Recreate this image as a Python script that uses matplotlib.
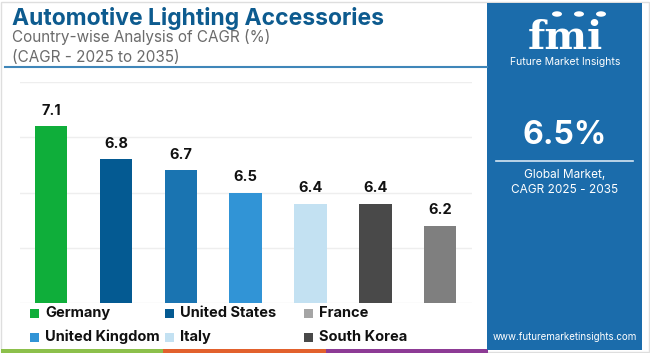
import matplotlib
matplotlib.use('Agg')
import matplotlib.pyplot as plt
from matplotlib.patches import Rectangle, Circle
from matplotlib.lines import Line2D

# Data
countries = ['Germany', 'United States', 'Japan', 'United Kingdom', 'Italy', 'South Korea', 'France']
cagr = [7.1, 6.8, 6.7, 6.5, 6.4, 6.4, 6.2]
bar_colors = ['#0fae3a', '#045a92', '#1a74b1', '#3194d6', '#c3e1f2', '#494949', '#7f7f7f']

legend_labels = ['Germany', 'United States', 'France', 'United Kingdom', 'Italy', 'South Korea']
legend_colors = ['#0fae3a', '#045a92', '#a5a5a5', '#3194d6', '#c3e1f2', '#494949']

W, H = 650, 353
FONT = 'Inter'
PANEL = '#1b6cab'


def fx(px):
    return px / W


def fy(py):
    return 1 - py / H


fig = plt.figure(figsize=(W / 100, H / 100), dpi=100)
fig.patch.set_facecolor('white')

# thin frame around the card
fig.patches.append(Rectangle((fx(1), fy(352)), fx(648), 350 / H, transform=fig.transFigure,
                             fill=False, edgecolor='#dedede', linewidth=1))

# title block
fig.text(fx(12), fy(18), 'Automotive Lighting Accessories', fontsize=16.5, fontweight='bold',
         color='#0d5b8f', family=FONT, va='center', ha='left')
fig.text(fx(12), fy(37), 'Country-wise Analysis of CAGR (%)', fontsize=11, color='#6b6b6b',
         family=FONT, va='center', ha='left')
fig.text(fx(12), fy(57), '(CAGR - 2025 to 2035)', fontsize=11, color='#6b6b6b',
         family=FONT, va='center', ha='left')
fig.add_artist(Line2D([fx(5), fx(487)], [fy(67), fy(67)], color='#3f86b9', linewidth=1.5,
                      transform=fig.transFigure))

# bar chart
ax = fig.add_axes([fx(20), fy(303), fx(452), 221 / H])
x = range(len(countries))
bars = ax.bar(x, cagr, width=0.5, color=bar_colors, zorder=3)
ax.set_ylim(5.5, 7.5)
ax.set_xlim(-0.48, len(countries) - 0.51)
ax.set_yticks([5.5, 6.0, 6.5, 7.0, 7.5])
ax.yaxis.grid(True, color='#eeeeee', linewidth=1, zorder=0)
ax.set_xticks([])
ax.tick_params(axis='y', length=0, labelleft=False)
for s in ax.spines.values():
    s.set_visible(False)
for b, v in zip(bars, cagr):
    ax.annotate(f'{v:.1f}', xy=(b.get_x() + b.get_width() / 2, v), xytext=(0, 6),
                textcoords='offset points', ha='center', va='bottom', fontsize=10.5,
                fontweight='bold', color='#111111', family=FONT)

# legend (manual, three columns)
col_x = [30, 165, 304]
row_y = [313, 337]
for i, (lab, col) in enumerate(zip(legend_labels, legend_colors)):
    cx = col_x[i % 3]
    cy = row_y[i // 3]
    fig.patches.append(Rectangle((fx(cx), fy(cy + 4.5)), fx(9), 9 / H, transform=fig.transFigure,
                                 facecolor=col, edgecolor='none'))
    fig.text(fx(cx + 15), fy(cy), lab, fontsize=10.5, fontweight='bold', color='#111111',
             family=FONT, va='center', ha='left')

# coloured strip at the bottom
for i, col in enumerate(['#8cc04b', '#e2612d', '#8d3b95']):
    fig.patches.append(Rectangle((fx(1 + i * 162.3), 0), fx(162.3), 4 / H, transform=fig.transFigure,
                                 facecolor=col, edgecolor='none'))

# right info panel
fig.patches.append(Rectangle((fx(487), fy(350)), fx(155), 347 / H, transform=fig.transFigure,
                             facecolor=PANEL, edgecolor='none'))
cxp = 565
fig.text(fx(cxp), fy(49), 'fmi', fontsize=29, fontweight='bold', color='white',
         family='DejaVu Serif', ha='center', va='baseline')
for yy in range(22, 50, 4):
    fig.add_artist(Line2D([fx(505), fx(625)], [fy(yy), fy(yy)], color=PANEL, linewidth=0.9,
                          transform=fig.transFigure))
for gx in [557, 579, 601]:
    fig.patches.append(Circle((fx(gx), fy(14)), 5 / W, transform=fig.transFigure,
                              facecolor='white', edgecolor='none'))
fig.text(fx(cxp), fy(62), 'Future Market Insights', fontsize=7.5, color='white',
         family=FONT, ha='center', va='center')
fig.text(fx(cxp), fy(136), '6.5%', fontsize=23, fontweight='bold', color='white',
         family=FONT, ha='center', va='center')
fig.add_artist(Line2D([fx(496), fx(633)], [fy(161), fy(161)], color='#d6e6f3', linewidth=1.2,
                      transform=fig.transFigure))
fig.text(fx(cxp), fy(175), 'Global Market,', fontsize=8.5, color='white',
         family=FONT, ha='center', va='center')
fig.text(fx(cxp), fy(190), 'CAGR 2025 - 2035', fontsize=8.5, color='white',
         family=FONT, ha='center', va='center')
fig.text(fx(cxp), fy(337), 'www.futuremarketinsights.com', fontsize=7, color='white',
         family=FONT, ha='center', va='center')

fig.savefig('out.png', dpi=100, facecolor='white')
